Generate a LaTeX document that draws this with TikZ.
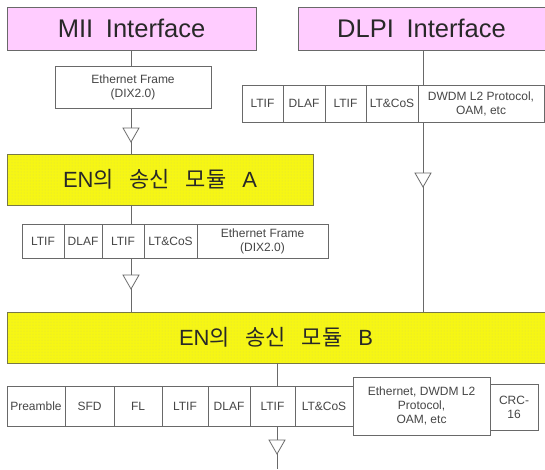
\documentclass[tikz,border=0pt]{standalone}
\usepackage{fontspec}
\setmainfont{Liberation Sans}
\newfontfamily\kr{Noto Sans CJK KR}
\usetikzlibrary{patterns,calc}

\definecolor{pinkfill}{RGB}{255,204,255}
\definecolor{ylwfill}{RGB}{246,246,20}
\definecolor{ylwdot}{RGB}{222,222,70}
\definecolor{ylwedge}{RGB}{120,120,70}
\definecolor{edge}{RGB}{105,105,105}
\definecolor{ink}{RGB}{40,40,40}
\definecolor{smallink}{RGB}{70,70,70}

% a cell given by its left, top, right and bottom edges
\newcommand\cellat[6]{%
  \node[cell, minimum width=#4pt-#2pt, minimum height=#5pt-#3pt]
    (#1) at ({(#2+#4)/2},{(#3+#5)/2}) {#6};}
% an open triangle pointing down, its top edge centred on a coordinate
\newcommand\opentri[1]{%
  \draw[tri] ($(#1)+(-8,0)$) -- ($(#1)+(8,0)$) -- ($(#1)+(0,14)$) -- cycle;}
% gap between the words of a module title
\newcommand\wgap{\hspace{0.72em}}

\tikzset{
  cell/.style={draw=edge, line width=0.8pt, fill=white, inner sep=0pt,
    outer sep=0pt, text=smallink, font=\fontsize{12}{14}\selectfont, align=center},
  iface/.style={draw=edge, line width=0.8pt, fill=pinkfill, inner sep=0pt,
    outer sep=0pt, text=ink, font=\fontsize{25.5}{30}\selectfont},
  module/.style={draw=ylwedge, line width=0.9pt, inner sep=0pt, outer sep=0pt,
    preaction={fill=ylwfill}, pattern=dots, pattern color=ylwdot,
    text=ink, font=\fontsize{22}{26}\selectfont},
  conn/.style={draw=edge, line width=0.8pt},
  tri/.style={draw=edge, line width=0.8pt, fill=white, line join=miter},
}

\begin{document}
\begin{tikzpicture}[x=1pt, y=-1pt]
\useasboundingbox (0,0) rectangle (545,469);

% interfaces
\node[iface, minimum width=249pt, minimum height=43pt] (mii) at (131.5,28.5)
  {MII\hspace{0.5em}Interface};
\node[iface, minimum width=247pt, minimum height=43pt] (dlpi) at (421.5,28.5)
  {DLPI\hspace{0.5em}Interface};

% frame under the MII interface
\cellat{ethA}{55}{66}{211}{108}{Ethernet Frame\\(DIX2.0)}

% frame under the DLPI interface
\cellat{d1}{242}{85}{283}{122}{LTIF}
\cellat{d2}{283}{85}{325}{122}{DLAF}
\cellat{d3}{325}{85}{366}{122}{LTIF}
\cellat{d4}{366}{85}{418}{122}{LT\&CoS}
\cellat{d5}{418}{85}{544}{122}{DWDM L2 Protocol,\\OAM, etc}

% transmit modules
\node[module, minimum width=306pt, minimum height=51pt] (modA) at (160,179.5)
  {EN{\kr 의}\wgap{\kr 송신}\wgap{\kr 모듈}\wgap A};
\node[module, minimum width=538pt, minimum height=51pt] (modB) at (276,337.5)
  {EN{\kr 의}\wgap{\kr 송신}\wgap{\kr 모듈}\wgap B};

% frame after module A
\cellat{a1}{22}{224}{64}{258}{LTIF}
\cellat{a2}{64}{224}{102}{258}{DLAF}
\cellat{a3}{102}{224}{144}{258}{LTIF}
\cellat{a4}{144}{224}{197}{258}{LT\&CoS}
\cellat{a5}{197}{224}{328}{258}{Ethernet Frame\\(DIX2.0)}

% frame after module B
\cellat{b1}{7}{386}{65}{426}{Preamble}
\cellat{b2}{65}{386}{114}{426}{SFD}
\cellat{b3}{114}{386}{162}{426}{FL}
\cellat{b4}{162}{386}{208}{426}{LTIF}
\cellat{b5}{208}{386}{250}{426}{DLAF}
\cellat{b6}{250}{386}{295}{426}{LTIF}
\cellat{b7}{295}{386}{353}{426}{LT\&CoS}
\cellat{b8}{353}{377}{490}{435}{Ethernet, DWDM L2\\Protocol,\\OAM, etc}
\cellat{b9}{490}{384}{538}{430}{CRC-\\16}

% triangle positions on the flow lines
\coordinate (t1) at (131,128);
\coordinate (t2) at (131,275);
\coordinate (t3) at (423,173);
\coordinate (t4) at (277,440);
\coordinate (out) at (277,469);

% flow lines
\draw[conn] (mii.south -| t1) -- (ethA.north -| t1);
\draw[conn] (ethA.south -| t1) -- (modA.north -| t1);
\draw[conn] (modA.south -| t2) -- (a3.north -| t2);
\draw[conn] (a3.south -| t2) -- (modB.north -| t2);
\draw[conn] (dlpi.south -| t3) -- (d5.north -| t3);
\draw[conn] (d5.south -| t3) -- (modB.north -| t3);
\draw[conn] (modB.south -| t4) -- (b6.north -| t4);
\draw[conn] (b6.south -| t4) -- (out);

\opentri{t1}
\opentri{t2}
\opentri{t3}
\opentri{t4}
\end{tikzpicture}
\end{document}
